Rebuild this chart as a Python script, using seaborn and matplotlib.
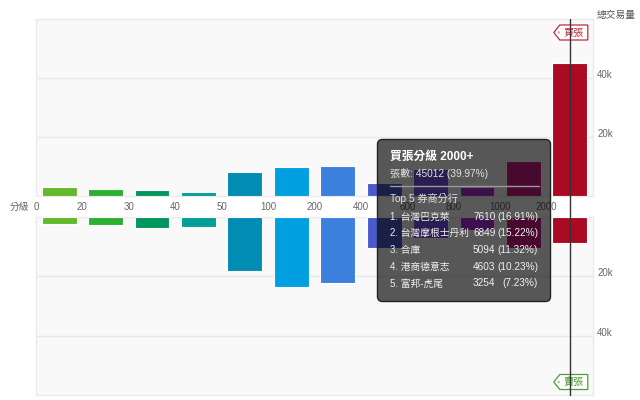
import numpy as np
import pandas as pd
import matplotlib
matplotlib.use("Agg")
import matplotlib.pyplot as plt
import seaborn as sns
from matplotlib.patches import FancyBboxPatch, Polygon, Circle
from matplotlib.lines import Line2D
from matplotlib.transforms import IdentityTransform, blended_transform_factory

# ---------------- data ----------------
bar_tiers = ["0-20", "20-30", "30-40", "40-50", "50-100", "100-200", "200-400",
             "400-600", "600-800", "800-1000", "1000-2000", "2000+"]
boundary_labels = ["0", "20", "30", "40", "50", "100", "200", "400", "600", "800", "1000", "2000"]
buy_volume = [2950, 2500, 2150, 1450, 8100, 9800, 10200, 4300, 9100, 3150, 12000, 45012]
sell_volume = [2250, 2800, 3600, 3400, 18100, 23500, 22300, 10400, 7000, 4250, 10400, 8700]
tier_colors = ["#62ba2a", "#2daf30", "#00975c", "#00a096", "#008cb3", "#00a0e0",
               "#3a80dc", "#4a5acd", "#7a55e8", "#b030d8", "#d01a88", "#aa0a22"]
y_ticks = [20000, 40000]
y_tick_labels = ["20k", "40k"]
y_max = 60000

tooltip_title = "買張分級 2000+"
tooltip_count_line = "張數: 45012 (39.97%)"
tooltip_header = "Top 5 券商分行"
brokers = ["台灣巴克萊", "台灣摩根士丹利", "合庫", "港商德意志", "富邦-虎尾"]
broker_lots = [7610, 6849, 5094, 4603, 3254]
broker_pct = [16.91, 15.22, 11.32, 10.23, 7.23]

# ---------------- style ----------------
sns.set_style("white")
plt.rcParams["font.family"] = ["Liberation Sans", "Noto Sans CJK TC", "DejaVu Sans"]

W, H = 640, 400
fig = plt.figure(figsize=(W / 100, H / 100), dpi=100)

left, right = 36 / W, 593 / W
ax_top = fig.add_axes([left, 1 - 196 / H, right - left, (196 - 19) / H])
ax_bot = fig.add_axes([left, 1 - 395 / H, right - left, (395 - 217) / H])

df_buy = pd.DataFrame({"tier": bar_tiers, "volume": buy_volume})
df_sell = pd.DataFrame({"tier": bar_tiers, "volume": sell_volume})

for ax, df in ((ax_top, df_buy), (ax_bot, df_sell)):
    sns.barplot(data=df, x="tier", y="volume", hue="tier", order=bar_tiers,
                hue_order=bar_tiers, palette=tier_colors, legend=False,
                width=0.75, edgecolor="white", linewidth=0.8, saturation=1,
                ax=ax, zorder=3)
    ax.set_facecolor("#f9f9f9")
    ax.set_xlim(-0.5, len(bar_tiers) - 0.5)
    ax.set_xlabel("")
    ax.set_ylabel("")
    ax.yaxis.tick_right()
    ax.set_yticks(y_ticks, y_tick_labels)
    ax.tick_params(axis="y", length=0, pad=3, labelsize=7, labelcolor="#666666")
    for t in ax.get_yticklabels():
        t.set_va("baseline")
    ax.grid(axis="y", color="#e8e8e8", lw=1)
    ax.grid(axis="x", visible=False)
    ax.set_axisbelow(True)
    for s in ax.spines.values():
        s.set_color("#ebebeb")
        s.set_linewidth(1)

ax_top.set_ylim(0, y_max)
ax_bot.set_ylim(y_max, 0)

ax_top.set_xticks(np.arange(len(boundary_labels)) - 0.5, boundary_labels)
ax_top.tick_params(axis="x", length=0, pad=4.5, labelsize=7, labelcolor="#666666")
ax_bot.set_xticks([])

ident = IdentityTransform()

def px(x, y):
    return x, H - y

fig.text(*px(29, 207), "分級", ha="right", va="center", fontsize=7, color="#666666",
         transform=ident)
fig.text(*px(597, 15), "總交易量", ha="left", va="center", fontsize=7, color="#555555",
         transform=ident)

# crosshair at 2000+ bar
fig.canvas.draw()
hl = len(bar_tiers) - 1
blend = blended_transform_factory(ax_top.transData, fig.transFigure)
y_lo = ax_bot.get_position().y0
y_hi = ax_top.get_position().y1
fig.add_artist(Line2D([hl, hl], [y_lo, y_hi], transform=blend, color="#333333",
                      lw=1, zorder=20))

lx = ax_top.transData.transform((hl, 0))[0]

def flag(cy, color, label):
    top, bot = cy - 7.5, cy + 7.5
    verts = [px(lx - 16, cy), px(lx - 10, top), px(lx + 18, top),
             px(lx + 18, bot), px(lx - 10, bot)]
    fig.add_artist(Polygon(verts, closed=True, facecolor="white", edgecolor=color,
                           lw=0.9, transform=ident, zorder=15))
    fig.add_artist(Circle(px(lx - 11, cy), 1.3, facecolor="#bbbbbb", edgecolor="none",
                          transform=ident, zorder=16))
    fig.text(*px(lx + 4, cy), label, ha="center", va="center", fontsize=7.3,
             color=color, transform=ident, zorder=16)

flag(32.5, "#c0283a", "買張")
flag(382, "#4f9a35", "賣張")

# tooltip
bx0, bx1, by0, by1 = 377.5, 550.5, 139.5, 301.5
fig.add_artist(FancyBboxPatch(px(bx0, by1), bx1 - bx0, by1 - by0,
                              boxstyle="round,pad=0,rounding_size=5",
                              facecolor=(0, 0, 0, 0.65), edgecolor="#222222", lw=1,
                              transform=ident, zorder=30))
tx = 389.5
fig.text(*px(tx, 157), tooltip_title, ha="left", va="center", fontsize=8.5,
         fontweight="bold", color="white", transform=ident, zorder=31)
fig.text(*px(tx, 173.5), tooltip_count_line, ha="left", va="center", fontsize=7.3,
         color="#e0e0e0", transform=ident, zorder=31)
fig.add_artist(Line2D([tx, 538.5], [H - 185.7, H - 185.7], color="#9a9a9a", lw=1,
                      transform=ident, zorder=31))
fig.text(*px(tx, 199), tooltip_header, ha="left", va="center", fontsize=7.3,
         color="#e0e0e0", transform=ident, zorder=31)
row_y = [216.7, 233, 250, 266.7, 283.5]
for i, (name, lots, pct) in enumerate(zip(brokers, broker_lots, broker_pct)):
    y = row_y[i]
    fig.text(*px(tx, y), f"{i + 1}. {name}", ha="left", va="center", fontsize=7,
             color="#f0f0f0", transform=ident, zorder=31)
    fig.text(*px(495.5, y), f"{lots}", ha="right", va="center", fontsize=7.2,
             color="#f0f0f0", transform=ident, zorder=31)
    fig.text(*px(538, y), f"({pct:.2f}%)", ha="right", va="center", fontsize=7.2,
             color="#f0f0f0", transform=ident, zorder=31)

fig.savefig("out.png", dpi=100)
